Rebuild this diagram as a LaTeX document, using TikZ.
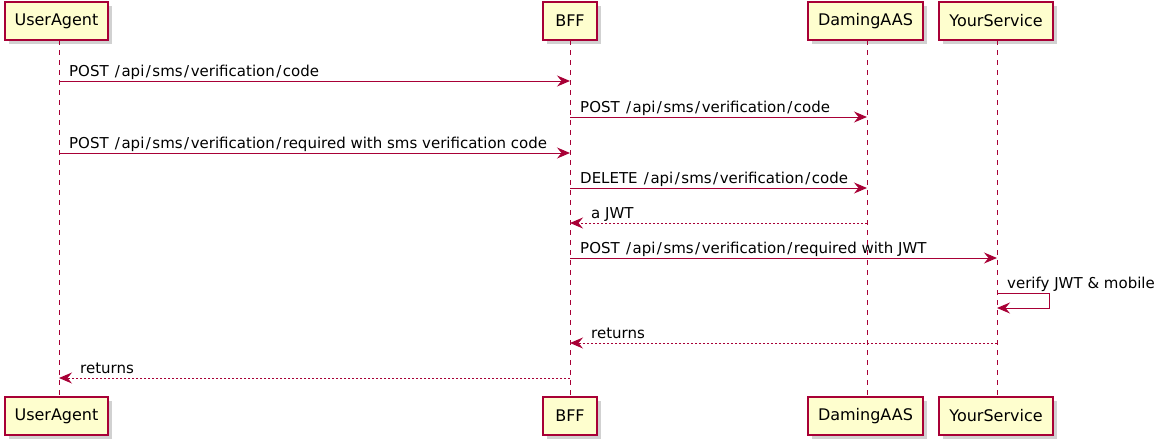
\documentclass[tikz,border=0pt]{standalone}
\usepackage{fontspec}
\setmainfont{DejaVu Sans}
\usetikzlibrary{arrows.meta,calc}
\definecolor{pline}{HTML}{A80036}
\definecolor{pfill}{HTML}{FEFECE}
\newcommand\sls{\hspace{1.5pt}/\hspace{1.5pt}}
\tikzset{
  pbox/.style={draw=pline, line width=1.5pt, fill=pfill, minimum height=38pt, inner sep=0pt, font=\fontsize{16}{18}\selectfont},
  pshadow/.style={fill=black, opacity=0.18, draw=none},
  lifeline/.style={draw=pline, line width=1pt, dash pattern=on 5pt off 5pt},
  msg/.style={draw=pline, line width=1pt, -{Stealth[length=13pt,width=11pt,inset=4.5pt]}},
  ret/.style={msg, dash pattern=on 2pt off 2pt},
  lbl/.style={anchor=base west, inner sep=0pt, font=\fontsize{15}{17}\selectfont}
}
\begin{document}
\begin{tikzpicture}[x=1pt,y=-1pt]
\useasboundingbox (0,0) rectangle (1160,442);
% coordinates of lifelines
\coordinate (xua) at (59,0);
\coordinate (xbff) at (570,0);
\coordinate (xdm) at (867,0);
\coordinate (xys) at (997,0);
% shadows
\foreach \l/\r in {5/108,543/597,808/923,939/1053}{
  \fill[pshadow] (\l+4,6) rectangle (\r+4,44);
  \fill[pshadow] (\l+4,401) rectangle (\r+4,439);
}
% lifelines
\foreach \x in {59,570,867,997}{
  \draw[lifeline] (\x,40) -- (\x,397);
}
% participants
\node[pbox, minimum width=103pt] (ua) at (56.5,21) {UserAgent};
\node[pbox, minimum width=54pt] (bff) at (570,21) {BFF};
\node[pbox, minimum width=115pt] (dm) at (865.5,21) {DamingAAS};
\node[pbox, minimum width=114pt] (ys) at (996,21) {YourService};
\node[pbox, minimum width=103pt] (ua2) at (56.5,416) {UserAgent};
\node[pbox, minimum width=54pt] (bff2) at (570,416) {BFF};
\node[pbox, minimum width=115pt] (dm2) at (865.5,416) {DamingAAS};
\node[pbox, minimum width=114pt] (ys2) at (996,416) {YourService};
% message rows
\foreach \i/\y in {1/81,2/117,3/153,4/188,5/223,6/258,7/293,7b/308,8/343,9/378}{
  \coordinate (m\i) at (0,\y);
}
\draw[msg] (xua |- m1) -- (xbff |- m1);
\node[lbl] at ($(xua |- m1)+(10,-5)$) {POST \sls api\sls sms\sls verification\sls code};
\draw[msg] (xbff |- m2) -- (xdm |- m2);
\node[lbl] at ($(xbff |- m2)+(10,-5)$) {POST \sls api\sls sms\sls verification\sls code};
\draw[msg] (xua |- m3) -- (xbff |- m3);
\node[lbl] at ($(xua |- m3)+(10,-5)$) {POST \sls api\sls sms\sls verification\sls required with sms verification code};
\draw[msg] (xbff |- m4) -- (xdm |- m4);
\node[lbl] at ($(xbff |- m4)+(10,-5)$) {DELETE \sls api\sls sms\sls verification\sls code};
\draw[ret] (xdm |- m5) -- (xbff |- m5);
\node[lbl] at ($(xbff |- m5)+(21,-5)$) {a JWT};
\draw[msg] (xbff |- m6) -- (xys |- m6);
\node[lbl] at ($(xbff |- m6)+(10,-5)$) {POST \sls api\sls sms\sls verification\sls required with JWT};
\coordinate (self1) at ($(xys |- m7)+(52,0)$);
\coordinate (self2) at ($(xys |- m7b)+(52,0)$);
\draw[msg] (xys |- m7) -- (self1) -- (self2) -- (xys |- m7b);
\node[lbl] at ($(xys |- m7)+(10,-5)$) {verify JWT \& mobile};
\draw[ret] (xys |- m8) -- (xbff |- m8);
\node[lbl] at ($(xbff |- m8)+(21,-5)$) {returns};
\draw[ret] (xbff |- m9) -- (xua |- m9);
\node[lbl] at ($(xua |- m9)+(21,-5)$) {returns};
\end{tikzpicture}
\end{document}
